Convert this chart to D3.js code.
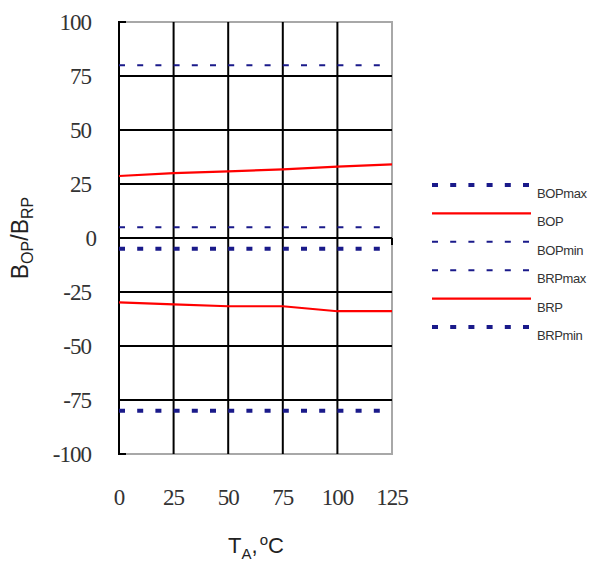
<!DOCTYPE html>
<html>
<head>
<meta charset="utf-8">
<script src="https://cdn.jsdelivr.net/npm/d3@7"></script>
<style>
  body { margin: 0; background: #fff; }
  svg { display: block; }
</style>
</head>
<body>
<div id="chart"></div>
<script>
// Data
const temps = [0, 25, 50, 75, 100, 125];
const bopMax = [80, 80, 80, 80, 80, 80];
const bop = [28.7, 30, 30.8, 31.8, 33, 34.1];
const bopMin = [5, 5, 5, 5, 5, 5];
const brpMax = [-5, -5, -5, -5, -5, -5];
const brp = [-29.8, -30.7, -31.6, -31.6, -33.9, -33.9];
const brpMin = [-80, -80, -80, -80, -80, -80];
const xTicks = [0, 25, 50, 75, 100, 125];
const yTicks = [-100, -75, -50, -25, 0, 25, 50, 75, 100];

const W = 596, H = 561;
const navy = "#1a1a8a", red = "#ff0000";

// line styles
const thinDash = { color: navy, width: 2, dash: "6,12.2" };
const thickDash = { color: navy, width: 4, dash: "6,12.2" };
const solidRed = { color: red, width: 2.2, dash: null };

// how each series is drawn in the plot
const series = [
    { name: "BOPmax", values: bopMax, style: thinDash },
    { name: "BOP", values: bop, style: solidRed },
    { name: "BOPmin", values: bopMin, style: thinDash },
    { name: "BRPmax", values: brpMax, style: thickDash },
    { name: "BRP", values: brp, style: solidRed },
    { name: "BRPmin", values: brpMin, style: thickDash }
];

// legend keeps its own symbols, as in the original
const legendItems = [
    { name: "BOPmax", style: thickDash },
    { name: "BOP", style: solidRed },
    { name: "BOPmin", style: thinDash },
    { name: "BRPmax", style: thinDash },
    { name: "BRP", style: solidRed },
    { name: "BRPmin", style: thickDash }
];

const svg = d3.select("#chart").append("svg")
    .attr("width", W)
    .attr("height", H);

const x = d3.scaleLinear().domain([0, 125]).range([119, 392]);
const y = d3.scaleLinear().domain([-100, 100]).range([454, 22]);

// Border (grey) top, right, bottom
const grid = svg.append("g");
grid.append("path")
    .attr("d", `M${x(0)},${y(100)}H${x(125)}V${y(-100)}H${x(0)}`)
    .attr("fill", "none")
    .attr("stroke", "#a8a8a8")
    .attr("stroke-width", 2);

// Horizontal grid lines
grid.selectAll(".hgrid")
    .data(yTicks.filter(d => d > -100 && d < 100))
    .enter()
    .append("line")
    .attr("class", "hgrid")
    .attr("x1", x(0))
    .attr("x2", x(125))
    .attr("y1", d => y(d))
    .attr("y2", d => y(d))
    .attr("stroke", "#000")
    .attr("stroke-width", 2);

// Vertical grid lines
grid.selectAll(".vgrid")
    .data(xTicks.filter(d => d > 0 && d < 125))
    .enter()
    .append("line")
    .attr("class", "vgrid")
    .attr("x1", d => x(d))
    .attr("x2", d => x(d))
    .attr("y1", y(100))
    .attr("y2", y(-100))
    .attr("stroke", "#000")
    .attr("stroke-width", 2);

// Left axis + small corner stubs
grid.append("path")
    .attr("d", `M${x(0) + 7},${y(100)}H${x(0)}V${y(-100)}H${x(0) + 7}`)
    .attr("fill", "none")
    .attr("stroke", "#000")
    .attr("stroke-width", 2);

// tick at the right end of the zero line
grid.append("line")
    .attr("x1", x(125)).attr("x2", x(125))
    .attr("y1", y(0)).attr("y2", y(0) + 7)
    .attr("stroke", "#000")
    .attr("stroke-width", 2);

// Series
const line = d3.line()
    .x((d, i) => x(temps[i]))
    .y(d => y(d));

svg.selectAll(".series")
    .data(series)
    .enter()
    .append("path")
    .attr("class", "series")
    .attr("d", d => line(d.values))
    .attr("fill", "none")
    .attr("stroke", d => d.style.color)
    .attr("stroke-width", d => d.style.width)
    .attr("stroke-dasharray", d => d.style.dash);

// Y tick labels
svg.selectAll(".ylab")
    .data(yTicks)
    .enter()
    .append("text")
    .attr("class", "ylab")
    .attr("x", d => d === 0 ? 96 : 91)
    .attr("y", d => y(d) + 8)
    .attr("text-anchor", "end")
    .style("font-family", "'Liberation Serif', serif")
    .style("font-size", "23px")
    .style("letter-spacing", "-1px")
    .attr("fill", "#333")
    .text(d => d);

// X tick labels
svg.selectAll(".xlab")
    .data(xTicks)
    .enter()
    .append("text")
    .attr("class", "xlab")
    .attr("x", d => x(d))
    .attr("y", 505)
    .attr("text-anchor", "middle")
    .style("font-family", "'Liberation Serif', serif")
    .style("font-size", "23px")
    .style("letter-spacing", "-1px")
    .attr("fill", "#333")
    .text(d => d);

// X title: T_A, °C
const xt = svg.append("text")
    .attr("x", 256)
    .attr("y", 553)
    .attr("text-anchor", "middle")
    .style("font-family", "'Liberation Sans', Arial, sans-serif")
    .style("font-size", "22px")
    .attr("fill", "#222");
xt.append("tspan").text("T");
xt.append("tspan").attr("dy", 6).style("font-size", "15px").text("A");
xt.append("tspan").attr("dy", -6).text(",");
xt.append("tspan").attr("dy", -8).attr("dx", 2).style("font-size", "15px").text("o");
xt.append("tspan").attr("dy", 8).text("C");

// Y title: B_OP/B_RP
const yt = svg.append("text")
    .attr("transform", "translate(28,238) rotate(-90)")
    .attr("text-anchor", "middle")
    .style("font-family", "'Liberation Sans', Arial, sans-serif")
    .style("font-size", "23px")
    .attr("fill", "#222");
yt.append("tspan").text("B");
yt.append("tspan").attr("dy", 5).style("font-size", "16px").text("OP");
yt.append("tspan").attr("dy", -5).text("/B");
yt.append("tspan").attr("dy", 5).style("font-size", "16px").text("RP");

// Legend
const legend = svg.append("g");
const rowY = i => 185 + i * 28.4;

legend.selectAll(".lkey")
    .data(legendItems)
    .enter()
    .append("line")
    .attr("class", "lkey")
    .attr("x1", 432)
    .attr("x2", 531)
    .attr("y1", (d, i) => rowY(i))
    .attr("y2", (d, i) => rowY(i))
    .attr("stroke", d => d.style.color)
    .attr("stroke-width", d => d.style.width)
    .attr("stroke-dasharray", d => d.style.dash);

legend.selectAll(".ltext")
    .data(legendItems)
    .enter()
    .append("text")
    .attr("class", "ltext")
    .attr("x", 537)
    .attr("y", (d, i) => rowY(i) + 13)
    .style("font-family", "'Liberation Sans', Arial, sans-serif")
    .style("font-size", "13px")
    .style("letter-spacing", "-0.4px")
    .attr("fill", "#333")
    .text(d => d.name);
</script>
</body>
</html>
